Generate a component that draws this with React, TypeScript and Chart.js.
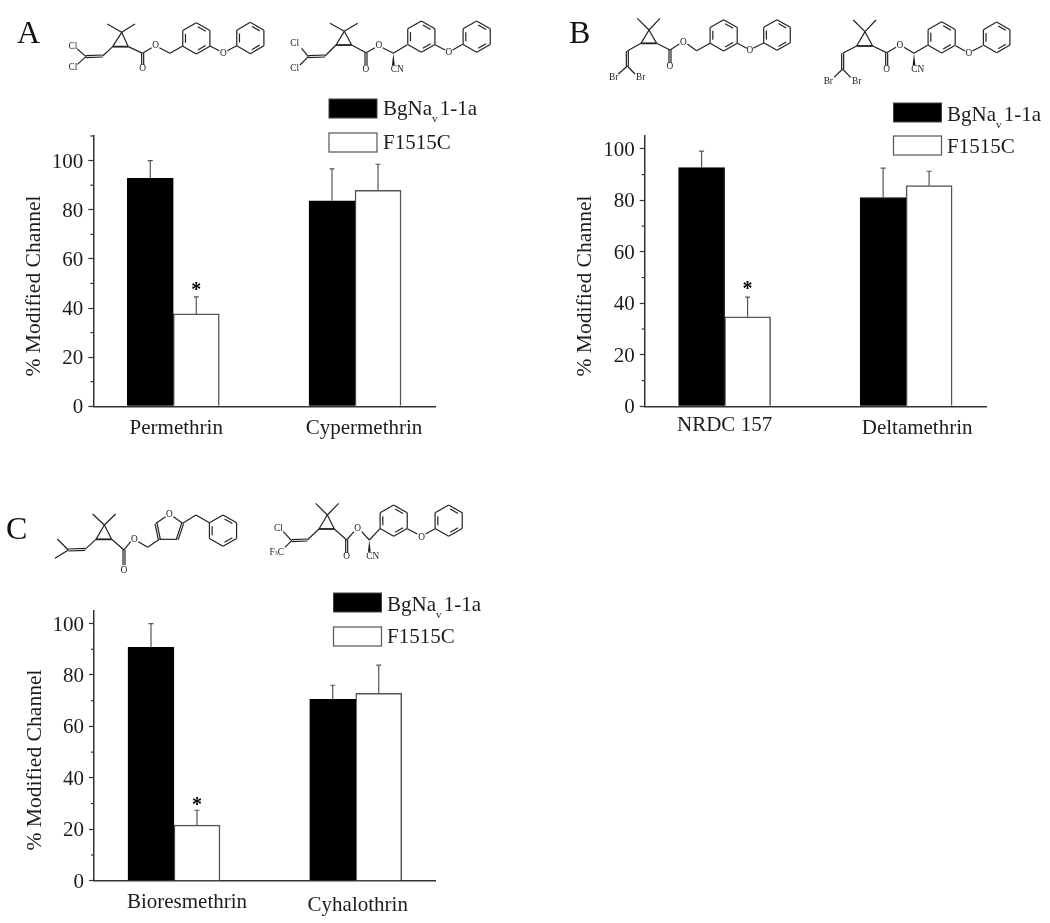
import React, { useEffect, useRef } from "react";
import { Chart, registerables } from "chart.js";

Chart.register(...registerables);

const SERIF = '"Liberation Serif", "Times New Roman", serif';
const INK = "#1c1c1c";

const seriesNames = ["BgNav 1-1a", "F1515C"];
const yTitle = "% Modified Channel";

// Panel A
const categoriesA = ["Permethrin", "Cypermethrin"];
const wildTypeA = [92.8, 83.6];
const mutantA = [37.6, 87.9];
const wildTypeErrA = [7.2, 13.0];
const mutantErrA = [6.9, 10.6];

// Panel B
const categoriesB = ["NRDC 157", "Deltamethrin"];
const wildTypeB = [92.7, 81.1];
const mutantB = [34.8, 85.7];
const wildTypeErrB = [6.4, 11.4];
const mutantErrB = [7.6, 5.6];

// Panel C
const categoriesC = ["Bioresmethrin", "Cyhalothrin"];
const wildTypeC = [90.8, 70.5];
const mutantC = [21.6, 72.9];
const wildTypeErrC = [9.2, 5.5];
const mutantErrC = [5.8, 10.9];

const significantMutant = [true, false];

type PanelCfg = {
  cats: string[]; wt: number[]; mu: number[]; wtErr: number[]; muErr: number[];
  yMax: number; canvas: { left: number; top: number; width: number; height: number };
  axisX: number; axisTop: number; axisBottom: number; axisRight: number;
  labelDx: number[]; labelBase: number[]; titleX: number; titleY: number; starBase: number;
};

const panels: PanelCfg[] = [
  {
    cats: categoriesA, wt: wildTypeA, mu: mutantA, wtErr: wildTypeErrA, muErr: mutantErrA, yMax: 110,
    canvas: { left: 0, top: 126, width: 445, height: 320 },
    axisX: 93.3, axisTop: 136, axisBottom: 406.3, axisRight: 435,
    labelDx: [3, 9], labelBase: [434, 434], titleX: 34, titleY: 286, starBase: -1,
  },
  {
    cats: categoriesB, wt: wildTypeB, mu: mutantB, wtErr: wildTypeErrB, muErr: mutantErrB, yMax: 105,
    canvas: { left: 550, top: 126, width: 446, height: 320 },
    axisX: 644.7, axisTop: 136, axisBottom: 406.3, axisRight: 986,
    labelDx: [0, 11], labelBase: [431, 434], titleX: 585, titleY: 286, starBase: -2,
  },
  {
    cats: categoriesC, wt: wildTypeC, mu: mutantC, wtErr: wildTypeErrC, muErr: mutantErrC, yMax: 105,
    canvas: { left: 0, top: 600, width: 446, height: 323 },
    axisX: 94, axisTop: 610.7, axisBottom: 880.7, axisRight: 435.7,
    labelDx: [13, 2], labelBase: [908, 911], titleX: 35, titleY: 760, starBase: 1,
  },
];

const zeroPad = (s: any) => {
  s.paddingTop = 0;
  s.paddingBottom = 0;
  s.paddingLeft = 0;
  s.paddingRight = 0;
};

function BarPanel({ cfg }: { cfg: PanelCfg }) {
  const ref = useRef<HTMLCanvasElement | null>(null);
  useEffect(() => {
    const c = cfg.canvas;
    const padTop = cfg.axisTop - c.top;
    const padRight = c.left + c.width - cfg.axisRight;
    const extras = {
      id: "extras",
      beforeDatasetsDraw(chart: any) {
        const { ctx, scales } = chart;
        const y = scales.y;
        ctx.save();
        ctx.strokeStyle = "#333";
        ctx.lineWidth = 1.2;
        for (let v = 10; v <= cfg.yMax; v += 20) {
          const p = y.getPixelForValue(v);
          ctx.beginPath();
          ctx.moveTo(y.right - 3, p);
          ctx.lineTo(y.right, p);
          ctx.stroke();
        }
        ctx.restore();
      },
      afterDatasetsDraw(chart: any) {
        const { ctx, scales } = chart;
        const x = scales.x;
        const y = scales.y;
        const errs = [cfg.wtErr, cfg.muErr];
        const vals = [cfg.wt, cfg.mu];
        ctx.save();
        errs.forEach((arr, ds) => {
          const meta = chart.getDatasetMeta(ds);
          arr.forEach((e, i) => {
            const bx = meta.data[i].x;
            const base = y.getPixelForValue(vals[ds][i]);
            const top = y.getPixelForValue(vals[ds][i] + e);
            ctx.strokeStyle = "#555";
            ctx.lineWidth = 1.2;
            ctx.beginPath();
            ctx.moveTo(bx, base);
            ctx.lineTo(bx, top);
            ctx.moveTo(bx - 2.5, top);
            ctx.lineTo(bx + 2.5, top);
            ctx.stroke();
            if (ds === 1 && significantMutant[i]) {
              ctx.fillStyle = "#000";
              ctx.font = `bold 20px ${SERIF}`;
              ctx.textAlign = "center";
              ctx.textBaseline = "alphabetic";
              ctx.fillText("*", bx, top + cfg.starBase);
            }
          });
        });
        ctx.fillStyle = INK;
        ctx.textBaseline = "alphabetic";
        ctx.textAlign = "center";
        ctx.font = `21px ${SERIF}`;
        cfg.cats.forEach((label, i) => {
          ctx.fillText(label, x.getPixelForValue(i + 1) + cfg.labelDx[i], cfg.labelBase[i] - c.top);
        });
        ctx.translate(cfg.titleX - c.left, cfg.titleY - c.top);
        ctx.rotate(-Math.PI / 2);
        ctx.textBaseline = "middle";
        ctx.font = `21.6px ${SERIF}`;
        ctx.fillText(yTitle, 0, 0);
        ctx.restore();
      },
    };
    const chart = new Chart(ref.current as HTMLCanvasElement, {
      type: "bar",
      data: {
        datasets: [
          {
            label: seriesNames[0],
            data: cfg.wt.map((v, i) => ({ x: i + 1, y: v })),
            backgroundColor: "#000",
            borderColor: "#000",
            borderWidth: 1,
            barThickness: 46,
          },
          {
            label: seriesNames[1],
            data: cfg.mu.map((v, i) => ({ x: i + 1, y: v })),
            backgroundColor: "#fff",
            borderColor: "#555",
            borderWidth: 1.5,
            barThickness: 46,
          },
        ],
      },
      options: {
        responsive: false,
        animation: false,
        devicePixelRatio: 1,
        layout: { autoPadding: false, padding: { top: padTop, right: padRight, left: 0, bottom: 0 } },
        plugins: { legend: { display: false }, title: { display: false }, tooltip: { enabled: false } },
        scales: {
          x: {
            type: "linear",
            offset: false,
            min: 0.56,
            max: 2.44,
            grid: { display: false },
            border: { display: true, color: "#333", width: 1.5 },
            ticks: { display: false },
            afterFit: (s: any) => { s.height = c.top + c.height - cfg.axisBottom; zeroPad(s); },
          },
          y: {
            min: 0,
            max: cfg.yMax,
            grid: {
              drawOnChartArea: false,
              drawTicks: true,
              tickLength: 5,
              tickWidth: 1.2,
              tickColor: (ctx: any) => (ctx.tick && ctx.tick.value % 20 === 0 ? "#333" : "rgba(0,0,0,0)"),
            },
            border: { display: true, color: "#333", width: 1.5 },
            ticks: {
              stepSize: 10,
              includeBounds: false,
              autoSkip: false,
              maxRotation: 0,
              padding: 5,
              labelOffset: 1.5,
              color: INK,
              font: { family: SERIF, size: 21 },
              callback: (v: any) => (Number(v) % 20 === 0 && Number(v) <= 100 ? String(v) : ""),
            },
            afterFit: (s: any) => { s.width = cfg.axisX - c.left; zeroPad(s); },
          },
        },
      },
      plugins: [extras],
    } as any);
    return () => chart.destroy();
  }, [cfg]);
  const c = cfg.canvas;
  return (
    <canvas
      ref={ref}
      width={c.width}
      height={c.height}
      style={{ position: "absolute", left: c.left, top: c.top, width: c.width, height: c.height }}
    />
  );
}

/* ---------- chemical structure sketches (decoration, in 3x page units) ---------- */
type Seg = number[];
const hex = (cx: number, cy: number, r: number): Seg[] => {
  const pts = [0, 1, 2, 3, 4, 5].map((k) => {
    const a = (-90 + 60 * k) * Math.PI / 180;
    return [cx + r * Math.cos(a), cy + r * Math.sin(a)];
  });
  const segs: Seg[] = [];
  pts.forEach((p, k) => {
    const q = pts[(k + 1) % 6];
    segs.push([p[0], p[1], q[0], q[1]]);
    if (k % 2 === 0) {
      const f = 0.8;
      const a = [cx + (p[0] - cx) * f, cy + (p[1] - cy) * f];
      const b = [cx + (q[0] - cx) * f, cy + (q[1] - cy) * f];
      const m = 0.14;
      segs.push([a[0] + (b[0] - a[0]) * m, a[1] + (b[1] - a[1]) * m, b[0] - (b[0] - a[0]) * m, b[1] - (b[1] - a[1]) * m]);
    }
  });
  return segs;
};
const dbl = (x1: number, y1: number, x2: number, y2: number): Seg[] => {
  const len = Math.hypot(x2 - x1, y2 - y1);
  const nx = ((y2 - y1) / len) * 3;
  const ny = (-(x2 - x1) / len) * 3;
  return [[x1 + nx, y1 + ny, x2 + nx, y2 + ny], [x1 - nx, y1 - ny, x2 - nx, y2 - ny]];
};
const path = (...p: number[]): Seg[] => {
  const out: Seg[] = [];
  for (let i = 0; i + 3 < p.length; i += 2) out.push([p[i], p[i + 1], p[i + 2], p[i + 3]]);
  return out;
};

type Mol = { dy: number; dx: number; segs: Seg[]; base: Seg[]; wedge: Seg[]; atoms: [number, number, string][] };

const molecules: Mol[] = [
  {
    dx: 0, dy: 0,
    segs: [
      ...path(322, 72, 365, 97, 405, 72), ...path(338, 140, 365, 97, 385, 140),
      ...path(338, 140, 308, 168), ...dbl(308, 168, 258, 170), ...path(258, 170, 232, 147), ...path(258, 170, 232, 193),
      ...path(385, 140, 428, 160), ...dbl(428, 160, 428, 194), ...path(428, 160, 455, 143),
      ...path(478, 143, 510, 160, 548, 138), ...hex(589, 115, 47), ...path(630, 138, 658, 152), ...path(682, 152, 710, 137), ...hex(751, 114, 47),
    ],
    base: [[338, 140, 385, 140]], wedge: [],
    atoms: [[219, 137, "Cl"], [219, 202, "Cl"], [428, 205, "O"], [467, 136, "O"], [670, 158, "O"]],
  },
  {
    dx: 0, dy: 0,
    segs: [
      ...path(990, 70, 1033, 94, 1073, 70), ...path(1008, 135, 1033, 94, 1055, 135),
      ...path(1008, 135, 975, 168), ...dbl(975, 168, 925, 170), ...path(925, 170, 905, 145), ...path(925, 170, 900, 195),
      ...path(1055, 135, 1098, 158), ...dbl(1098, 158, 1098, 195), ...path(1098, 158, 1125, 143),
      ...path(1148, 143, 1180, 160, 1222, 134), ...hex(1264, 110, 47), ...path(1305, 134, 1335, 150), ...path(1358, 150, 1388, 133), ...hex(1430, 110, 47),
    ],
    base: [[1008, 135, 1055, 135]], wedge: [[1180, 160, 1180, 196]],
    atoms: [[884, 130, "Cl"], [884, 203, "Cl"], [1098, 207, "O"], [1137, 135, "O"], [1347, 157, "O"], [1192, 206, "CN"]],
  },
  {
    dx: 1620, dy: 0,
    segs: [
      ...path(292, 55, 327, 90, 360, 55), ...path(303, 130, 327, 90, 350, 130),
      ...path(303, 130, 262, 153), ...dbl(262, 153, 262, 198), ...path(262, 198, 235, 222), ...path(262, 198, 285, 222),
      ...path(350, 130, 390, 150), ...dbl(390, 150, 390, 188), ...path(390, 150, 418, 132),
      ...path(442, 132, 470, 152, 510, 130), ...hex(551, 106, 47), ...path(592, 130, 620, 145), ...path(640, 145, 672, 128), ...hex(711, 105, 46),
    ],
    base: [[303, 130, 350, 130]], wedge: [],
    atoms: [[221, 231, "Br"], [302, 231, "Br"], [390, 198, "O"], [430, 125, "O"], [630, 150, "O"]],
  },
  {
    dx: 1620, dy: 0,
    segs: [
      ...path(940, 60, 975, 95, 1008, 60), ...path(950, 138, 975, 95, 998, 138),
      ...path(950, 138, 908, 160), ...dbl(908, 160, 908, 207), ...path(908, 207, 882, 232), ...path(908, 207, 932, 232),
      ...path(998, 138, 1040, 158), ...dbl(1040, 158, 1040, 197), ...path(1040, 158, 1068, 142),
      ...path(1092, 142, 1122, 160, 1163, 136), ...hex(1205, 112, 47), ...path(1247, 137, 1275, 153), ...path(1297, 153, 1328, 137), ...hex(1370, 112, 46),
    ],
    base: [[950, 138, 998, 138]], wedge: [[1122, 160, 1122, 196]],
    atoms: [[865, 243, "Br"], [950, 243, "Br"], [1040, 207, "O"], [1080, 135, "O"], [1287, 160, "O"], [1133, 206, "CN"]],
  },
  {
    dx: 0, dy: 1470,
    segs: [
      ...path(278, 72, 313, 105, 347, 72), ...path(288, 148, 313, 105, 335, 148),
      ...path(288, 148, 255, 178), ...dbl(255, 178, 205, 180), ...path(205, 180, 172, 147), ...path(205, 180, 165, 205),
      ...path(335, 148, 372, 180), ...dbl(372, 180, 372, 226), ...path(372, 180, 392, 155),
      ...path(415, 155, 443, 172, 478, 148), ...dbl(478, 148, 468, 100), ...path(468, 100, 497, 80), ...path(520, 80, 548, 100),
      ...dbl(548, 100, 532, 148), ...path(532, 148, 478, 148), ...path(548, 100, 588, 75, 628, 98), ...hex(669, 122, 47),
    ],
    base: [[288, 148, 335, 148]], wedge: [],
    atoms: [[372, 240, "O"], [403, 147, "O"], [508, 72, "O"]],
  },
  {
    dx: 0, dy: 1470,
    segs: [
      ...path(947, 40, 982, 75, 1016, 40), ...path(957, 117, 982, 75, 1003, 117),
      ...path(957, 117, 922, 150), ...dbl(922, 150, 875, 152), ...path(875, 152, 850, 125), ...path(875, 152, 855, 172),
      ...path(1003, 117, 1040, 150), ...dbl(1040, 150, 1040, 188), ...path(1040, 150, 1062, 125),
      ...path(1085, 125, 1108, 150, 1140, 116), ...hex(1181, 92, 47), ...path(1222, 116, 1252, 132), ...path(1277, 132, 1305, 116), ...hex(1346, 92, 47),
    ],
    base: [[957, 117, 1003, 117]], wedge: [[1108, 150, 1108, 185]],
    atoms: [[835, 115, "Cl"], [830, 185, "F3C"], [1040, 198, "O"], [1073, 115, "O"], [1265, 140, "O"], [1118, 197, "CN"]],
  },
];

function Molecule({ m }: { m: Mol }) {
  const ln = (s: Seg, w: number, i: number) => (
    <line key={i} x1={s[0]} y1={s[1]} x2={s[2]} y2={s[3]} stroke="#222" strokeWidth={w} />
  );
  return (
    <g transform={`translate(${m.dx} ${m.dy})`}>
      {m.segs.map((s, i) => ln(s, 3.6, i))}
      {m.base.map((s, i) => ln(s, 5.5, 1000 + i))}
      {m.wedge.map((s, i) => (
        <polygon key={2000 + i} points={`${s[0]},${s[1]} ${s[2] - 4},${s[3]} ${s[2] + 4},${s[3]}`} fill="#111" />
      ))}
      {m.atoms.map(([x, y, t], i) => (
        <text key={3000 + i} x={x} y={y} fontSize={28} fontFamily={SERIF} fill="#222" textAnchor="middle" dominantBaseline="central">
          {t === "F3C" ? (
            <>F<tspan fontSize={18} dy={5}>3</tspan><tspan dy={-5}>C</tspan></>
          ) : t}
        </text>
      ))}
    </g>
  );
}

/* ---------- legends and panel letters ---------- */
const legendSpots = [
  { x: 329, y1: 99, y2: 133, tx: 383, b1: 115, b2: 149 },
  { x: 893.5, y1: 103, y2: 136, tx: 947, b1: 121, b2: 153 },
  { x: 333.5, y1: 593, y2: 627, tx: 387, b1: 611, b2: 643 },
];
const panelLetters: [string, number, number][] = [["A", 17, 43], ["B", 569, 43], ["C", 6, 539]];

function Legend({ s }: { s: (typeof legendSpots)[number] }) {
  const [first, rest] = seriesNames[0].split("v");
  return (
    <g fontFamily={SERIF} fontSize={21} fill={INK}>
      <rect x={s.x} y={s.y1} width={48} height={19} fill="#000" stroke="#444" strokeWidth={1} />
      <rect x={s.x} y={s.y2} width={48} height={19} fill="#fff" stroke="#555" strokeWidth={1.2} />
      <text x={s.tx} y={s.b1} xmlSpace="preserve">
        {first}
        <tspan fontSize={11} dy={7}>v</tspan>
        <tspan dy={-7} dx={-3}>{rest}</tspan>
      </text>
      <text x={s.tx} y={s.b2}>{seriesNames[1]}</text>
    </g>
  );
}

export default function App() {
  return (
    <div style={{ position: "absolute", left: 0, top: 0, width: 1050, height: 923, background: "#fff", overflow: "hidden" }}>
      {panels.map((p, i) => <BarPanel key={i} cfg={p} />)}
      <svg width={1050} height={923} style={{ position: "absolute", left: 0, top: 0, pointerEvents: "none" }}>
        <g transform="scale(0.33333)">
          {molecules.map((m, i) => <Molecule key={i} m={m} />)}
        </g>
        {legendSpots.map((s, i) => <Legend key={i} s={s} />)}
        {panelLetters.map(([t, x, y]) => (
          <text key={t} x={x} y={y} fontFamily={SERIF} fontSize={32} fill="#111">{t}</text>
        ))}
      </svg>
    </div>
  );
}
